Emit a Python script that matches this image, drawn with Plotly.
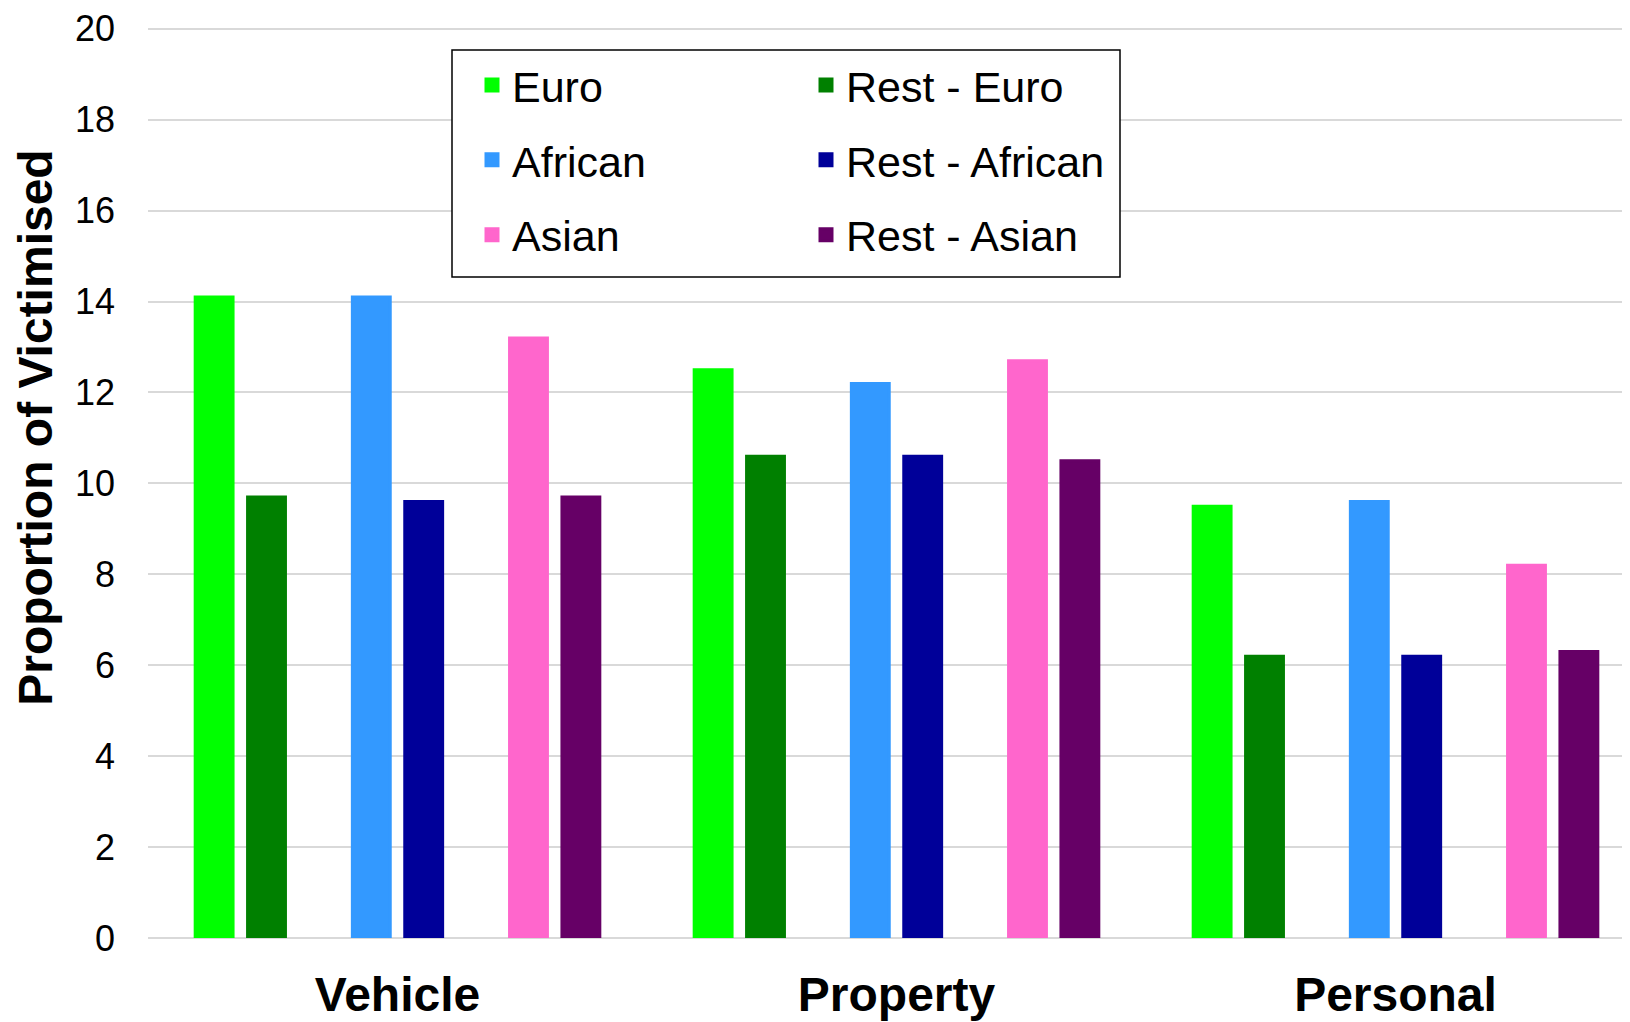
import plotly.graph_objects as go

categories = ["Vehicle", "Property", "Personal"]
euro = [14.1, 12.5, 9.5]
rest_euro = [9.7, 10.6, 6.2]
african = [14.1, 12.2, 9.6]
rest_african = [9.6, 10.6, 6.2]
asian = [13.2, 12.7, 8.2]
rest_asian = [9.7, 10.5, 6.3]
y_ticks = [0, 2, 4, 6, 8, 10, 12, 14, 16, 18, 20]

FONT = "Liberation Sans, Arial, sans-serif"
W, H = 1630, 1022
ML, MR, MT, MB = 140, 0, 17, 92
PW, PH = W - ML - MR, H - MT - MB
LW = 3


def px(xf):
    return (xf - ML) / PW


def py(yf):
    return (H - MB - yf) / PH


series = [
    ("Euro", euro, "#00ff00", "legend"),
    ("Rest - Euro", rest_euro, "#008000", "legend2"),
    (None, None, None, None),
    ("African", african, "#3399ff", "legend"),
    ("Rest - African", rest_african, "#000099", "legend2"),
    (None, None, None, None),
    ("Asian", asian, "#ff66cc", "legend"),
    ("Rest - Asian", rest_asian, "#660066", "legend2"),
]

fig = go.Figure()
for i, (name, vals, col, leg) in enumerate(series):
    if name is None:
        fig.add_trace(go.Bar(x=categories, y=[None] * len(categories),
                             showlegend=False, hoverinfo="skip",
                             marker=dict(color="rgba(0,0,0,0)", line=dict(width=0))))
    else:
        fig.add_trace(go.Bar(x=categories, y=vals, name=name,
                             marker=dict(color=col, line=dict(color=col, width=LW)),
                             legend=leg, legendgroup=name))

legend_common = dict(xanchor="left", yanchor="top", y=py(40.5),
                     bgcolor="rgba(0,0,0,0)", borderwidth=0,
                     font=dict(family=FONT, size=43, color="black"),
                     tracegroupgap=16, itemclick=False, itemdoubleclick=False)

fig.update_layout(
    width=W, height=H,
    margin=dict(l=ML, r=MR, t=MT, b=MB, pad=0),
    paper_bgcolor="white", plot_bgcolor="white",
    barmode="group", bargap=0.16, bargroupgap=0.277,
    font=dict(family=FONT, color="black"),
    xaxis=dict(range=[-0.5, -0.5 + PW / 499.0], showgrid=False,
               showline=False, ticks="",
               tickfont=dict(family=FONT, size=48, color="black", weight="bold"),
               ticklabelstandoff=24, ticklabeloverflow="allow"),
    yaxis=dict(range=[0, 20.04], tickvals=y_ticks, showgrid=True,
               gridcolor="#d9d9d9", gridwidth=1.5, zeroline=True,
               zerolinecolor="#d9d9d9", zerolinewidth=1.8, showline=False,
               ticks="", tickfont=dict(family=FONT, size=36, color="black"),
               ticklabelstandoff=32, ticklabeloverflow="allow"),
    legend=dict(x=px(464), **legend_common),
    legend2=dict(x=px(798), **legend_common),
    shapes=[dict(type="rect", xref="paper", yref="paper",
                 x0=px(444), x1=px(1112), y0=py(267.5), y1=py(40.0),
                 line=dict(color="black", width=1.5), fillcolor="white", layer="above")],
    annotations=[dict(text="<b>Proportion of Victimised</b>", textangle=-90,
                      xref="paper", yref="paper", x=px(28), y=py(418.7),
                      xanchor="center", yanchor="middle", showarrow=False,
                      font=dict(family=FONT, size=48, color="black"))],
)

fig.write_html("out.html")
